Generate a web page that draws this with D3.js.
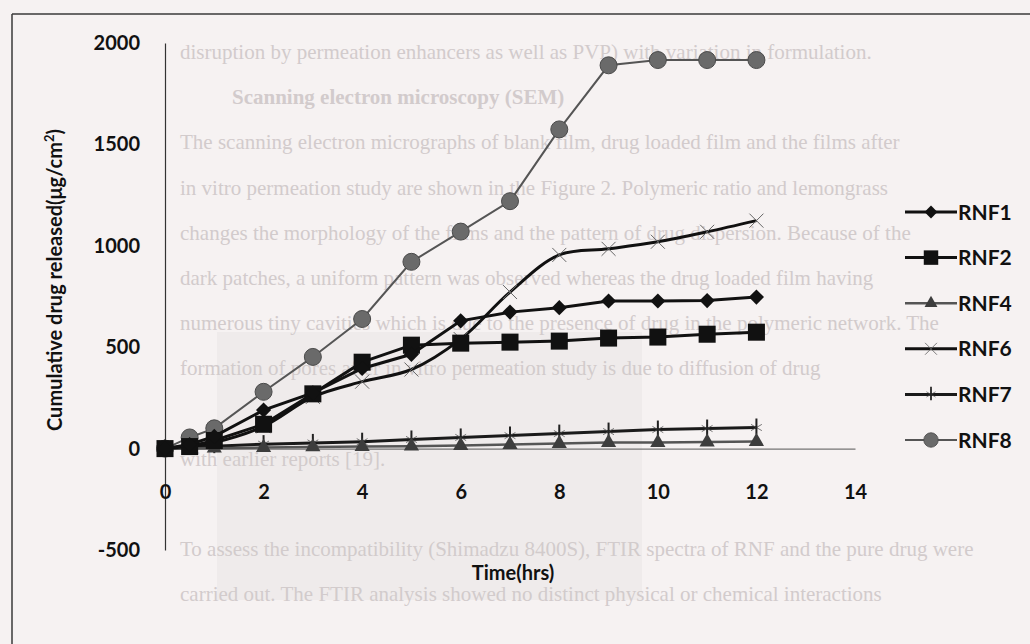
<!DOCTYPE html>
<html>
<head>
<meta charset="utf-8">
<script src="https://cdn.jsdelivr.net/npm/d3@7/dist/d3.min.js"></script>
<style>
  html, body { margin: 0; padding: 0; background: #f6f2f2; }
  svg { display: block; }
</style>
</head>
<body>
<div id="chart"></div>
<script>
// release times (hrs) and cumulative drug released (ug/cm2) per formulation
var times = [0, 0.5, 1, 2, 3, 4, 5, 6, 7, 8, 9, 10, 11, 12];
var rnf1 = [0, 20, 60, 190, 275, 395, 465, 630, 673, 695, 728, 728, 730, 747];
var rnf2 = [0, 10, 40, 120, 270, 426, 510, 520, 525, 530, 545, 550, 564, 574];
var rnf4 = [0, 0, 2, 5, 8, 10, 12, 15, 20, 25, 30, 30, 32, 35];
var rnf6 = [0, 10, 30, 110, 255, 330, 390, 540, 772, 955, 985, 1020, 1069, 1124];
var rnf7 = [0, 5, 12, 22, 28, 34, 45, 55, 64, 74, 84, 94, 99, 104];
var rnf8 = [0, 55, 100, 280, 452, 639, 921, 1070, 1220, 1574, 1890, 1916, 1916, 1916];

var seriesNames = ["RNF1", "RNF2", "RNF4", "RNF6", "RNF7", "RNF8"];
var xTicks = [0, 2, 4, 6, 8, 10, 12, 14];
var yTicks = [-500, 0, 500, 1000, 1500, 2000];

// text of the printed page showing through the scan (row 0 is the top row under the frame)
var pageLines = [
  "disruption by permeation enhancers as well as PVP) with variation in formulation.",
  "Scanning electron microscopy (SEM)",
  "The scanning electron micrographs of blank film, drug loaded film and the films after",
  "in vitro permeation study are shown in the Figure 2. Polymeric ratio and lemongrass",
  "changes the morphology of the films and the pattern of drug dispersion. Because of the",
  "dark patches, a uniform pattern was observed whereas the drug loaded film having",
  "numerous tiny cavities which is due to the presence of drug in the polymeric network. The",
  "formation of pores after in vitro permeation study is due to diffusion of drug",
  "",
  "with earlier reports [19].",
  "",
  "To assess the incompatibility (Shimadzu 8400S), FTIR spectra of RNF and the pure drug were",
  "carried out. The FTIR analysis showed no distinct physical or chemical interactions"
];

var W = 1030, H = 644;
var svg = d3.select("#chart").append("svg")
    .attr("width", W)
    .attr("height", H);

svg.append("rect").attr("width", W).attr("height", H).attr("fill", "#f6f2f2");
// slightly darker scanned patch
svg.append("rect").attr("x", 217).attr("y", 332).attr("width", 425).attr("height", 268)
    .attr("fill", "#efebeb");

// page bleed-through
svg.append("g").selectAll("text")
  .data(pageLines)
  .enter().append("text")
    .attr("x", function(d, i) { return i == 1 ? 232 : 180; })
    .attr("y", function(d, i) { return 59 + i * 45.2; })
    .style("font-family", "'Liberation Serif', serif")
    .style("font-size", "21px")
    .style("font-weight", function(d, i) { return i == 1 ? "bold" : "normal"; })
    .style("fill", "#d2cbcc")
    .text(function(d) { return d; });

// frame of the scanned figure
svg.append("line").attr("x1", 12).attr("x2", W).attr("y1", 14).attr("y2", 14)
    .attr("stroke", "#3a3a3a").attr("stroke-width", 1.5);
svg.append("line").attr("x1", 12).attr("x2", 12).attr("y1", 14).attr("y2", H)
    .attr("stroke", "#3a3a3a").attr("stroke-width", 1.5);

var x = d3.scaleLinear().domain([0, 14]).range([165, 855]);
var y = d3.scaleLinear().domain([-500, 2000]).range([550, 43]);

var font = "Lato, 'Open Sans', sans-serif";

// y axis
var yAxis = svg.append("g")
    .attr("transform", "translate(" + x(0) + ",0)")
    .call(d3.axisLeft(y).tickValues(yTicks).tickSize(0).tickPadding(25)
      .tickFormat(function(d) { return String(d); }));
yAxis.select(".domain").attr("stroke", "#333").attr("stroke-width", 1.2);
yAxis.selectAll("text")
    .style("font-family", font).style("font-size", "20px").style("font-weight", "bold")
    .attr("fill", "#111");

// x axis along zero
var xAxis = svg.append("g")
    .attr("transform", "translate(0," + y(0) + ")")
    .call(d3.axisBottom(x).tickValues(xTicks).tickSize(0).tickPadding(36).tickSizeOuter(0)
      .tickFormat(function(d) { return String(d); }));
xAxis.select(".domain").attr("stroke", "#555").attr("stroke-width", 1);
xAxis.selectAll("text")
    .style("font-family", font).style("font-size", "20px").style("font-weight", "bold")
    .attr("fill", "#111");

// axis titles
var yTitle = svg.append("text")
    .attr("transform", "translate(62,280) rotate(-90)")
    .attr("text-anchor", "middle")
    .style("font-family", font).style("font-size", "20px").style("font-weight", "bold")
    .attr("fill", "#111");
yTitle.append("tspan").text("Cumulative drug released(\u03bcg/cm");
yTitle.append("tspan").attr("dy", -8).style("font-size", "13px").text("2");
yTitle.append("tspan").attr("dy", 8).text(")");

svg.append("text")
    .attr("x", 513).attr("y", 580)
    .attr("text-anchor", "middle")
    .style("font-family", font).style("font-size", "20px").style("font-weight", "bold")
    .attr("fill", "#111")
    .text("Time(hrs)");

// marker drawers
var timesPath = "M-7,-7L7,7M-7,7L7,-7";
function drawMarker(g, kind) {
  if (kind == "diamond") {
    g.append("path").attr("d", d3.symbol(d3.symbolSquare, 115)())
      .attr("transform", "rotate(45)").attr("fill", "#111");
  } else if (kind == "square") {
    g.append("path").attr("d", d3.symbol(d3.symbolSquare, 290)()).attr("fill", "#111");
  } else if (kind == "triangle") {
    g.append("path").attr("d", d3.symbol(d3.symbolTriangle, 100)()).attr("fill", "#3d3d3d");
  } else if (kind == "times") {
    g.append("path").attr("d", timesPath).attr("stroke", "#666").attr("stroke-width", 1).attr("fill", "none");
  } else if (kind == "star") {
    g.append("path").attr("d", d3.symbol(d3.symbolAsterisk, 110)())
      .attr("stroke", "#555").attr("stroke-width", 0.8).attr("fill", "none");
    g.append("path").attr("d", "M0,-9L0,7").attr("stroke", "#222").attr("stroke-width", 2);
  } else if (kind == "circle") {
    g.append("circle").attr("r", 8.5).attr("fill", "#6a6a6a").attr("stroke", "#4a4a4a").attr("stroke-width", 1);
  }
}

var series = [
  {name: seriesNames[0], values: rnf1, color: "#111", width: 3, marker: "diamond", curve: d3.curveLinear},
  {name: seriesNames[1], values: rnf2, color: "#111", width: 3, marker: "square", curve: d3.curveLinear},
  {name: seriesNames[2], values: rnf4, color: "#555", width: 2.5, marker: "triangle", curve: d3.curveLinear},
  {name: seriesNames[3], values: rnf6, color: "#111", width: 3, marker: "times", curve: d3.curveCatmullRom.alpha(0.5)},
  {name: seriesNames[4], values: rnf7, color: "#1a1a1a", width: 3, marker: "star", curve: d3.curveLinear},
  {name: seriesNames[5], values: rnf8, color: "#555", width: 2, marker: "circle", curve: d3.curveLinear}
];

// draw in reverse so RNF1 ends up on top like the original
series.slice().reverse().forEach(function(s) {
  var pts = times.map(function(t, i) { return [t, s.values[i]]; });
  var line = d3.line()
    .x(function(d) { return x(d[0]); })
    .y(function(d) { return y(d[1]); })
    .curve(s.curve);
  var g = svg.append("g");
  g.append("path").datum(pts)
    .attr("d", line)
    .attr("fill", "none")
    .attr("stroke", s.color)
    .attr("stroke-width", s.width);
  pts.forEach(function(p) {
    var m = g.append("g").attr("transform", "translate(" + x(p[0]) + "," + y(p[1]) + ")");
    drawMarker(m, s.marker);
  });
});

// legend
var legend = svg.append("g");
series.forEach(function(s, i) {
  var ly = 212 + i * 45.6;
  var lg = legend.append("g").attr("transform", "translate(0," + ly + ")");
  lg.append("line").attr("x1", 905).attr("x2", 957).attr("y1", 0).attr("y2", 0)
    .attr("stroke", s.color).attr("stroke-width", s.width);
  drawMarker(lg.append("g").attr("transform", "translate(931,0) scale(0.85)"), s.marker);
  lg.append("text")
    .attr("x", 958).attr("y", 7.5)
    .style("font-family", font).style("font-size", "21px").style("font-weight", "bold")
    .attr("fill", "#111")
    .text(s.name);
});
</script>
</body>
</html>
